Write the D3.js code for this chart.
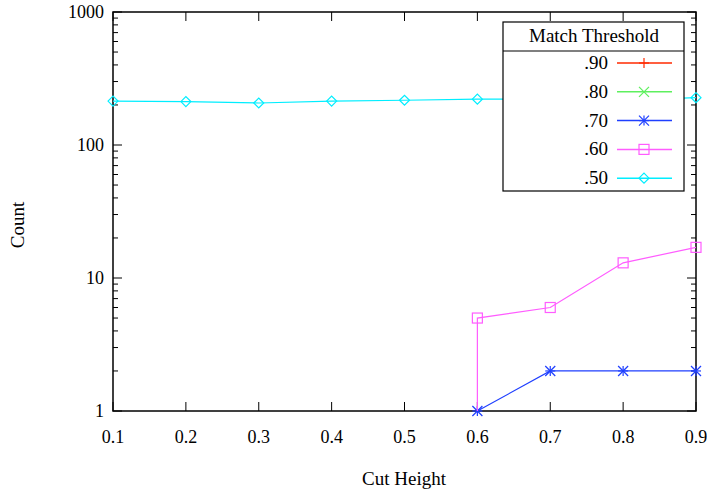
<!DOCTYPE html>
<html>
<head>
<meta charset="utf-8">
<script src="https://cdn.jsdelivr.net/npm/d3@7"></script>
<style>
  body { margin: 0; background: #fff; }
  svg { font-family: "Liberation Serif", "DejaVu Serif", serif; }
</style>
</head>
<body>
<svg width="707" height="492"></svg>
<script>
const cutHeights = [0.1, 0.2, 0.3, 0.4, 0.5, 0.6, 0.7, 0.8, 0.9];
const xTicks = [0.1, 0.2, 0.3, 0.4, 0.5, 0.6, 0.7, 0.8, 0.9];
const yTicks = [1, 10, 100, 1000];

// counts per cut height, null = nothing drawn (zero on a log axis)
const t90 = [null, null, null, null, null, null, null, null, null];
const t80 = [null, null, null, null, null, null, null, null, null];
const t70 = [null, null, null, null, null, 1, 2, 2, 2];
const t60 = [null, null, null, null, null, 5, 6, 13, 17];
const t50 = [214, 212, 207, 214, 217, 221, 222, 217, 227];

const seriesNames = ['.90', '.80', '.70', '.60', '.50'];
const seriesValues = [t90, t80, t70, t60, t50];
const seriesColors = ['#ff2a00', '#5ef05e', '#1f3fff', '#ff5cff', '#00eeff'];
const seriesMarkers = ['plus', 'cross', 'star', 'square', 'diamond'];

const plotL = 113, plotR = 696, plotT = 12, plotB = 411;

const svg = d3.select('svg');

const x = d3.scaleLinear().domain([0.1, 0.9]).range([plotL, plotR]);
const y = d3.scaleLog().domain([1, 1000]).range([plotB, plotT]);

// minor ticks for the log axis
const minorTicks = [];
for (let d = 1; d < 1000; d *= 10) {
    for (let k = 2; k <= 9; k++) minorTicks.push(d * k);
}

const axes = svg.append('g').attr('stroke', '#000');

// y ticks, both sides, pointing inwards
yTicks.forEach(v => {
    axes.append('line').attr('x1', plotL).attr('x2', plotL + 9).attr('y1', y(v)).attr('y2', y(v));
    axes.append('line').attr('x1', plotR).attr('x2', plotR - 9).attr('y1', y(v)).attr('y2', y(v));
});
minorTicks.forEach(v => {
    axes.append('line').attr('x1', plotL).attr('x2', plotL + 5).attr('y1', y(v)).attr('y2', y(v));
    axes.append('line').attr('x1', plotR).attr('x2', plotR - 5).attr('y1', y(v)).attr('y2', y(v));
});
// x ticks, top and bottom
xTicks.forEach(v => {
    axes.append('line').attr('x1', x(v)).attr('x2', x(v)).attr('y1', plotB).attr('y2', plotB - 9);
    axes.append('line').attr('x1', x(v)).attr('x2', x(v)).attr('y1', plotT).attr('y2', plotT + 9);
});

axes.append('rect')
    .attr('x', plotL).attr('y', plotT)
    .attr('width', plotR - plotL).attr('height', plotB - plotT)
    .attr('fill', 'none').attr('stroke-width', 1.5);

// tick labels
svg.append('g').selectAll('text').data(yTicks).enter().append('text')
    .attr('x', plotL - 9).attr('y', d => y(d) + 6)
    .attr('text-anchor', 'end').attr('font-size', 18)
    .text(d => d);

svg.append('g').selectAll('text').data(xTicks).enter().append('text')
    .attr('x', d => x(d)).attr('y', 443)
    .attr('text-anchor', 'middle').attr('font-size', 18)
    .text(d => d.toFixed(1));

svg.append('text').attr('x', 404).attr('y', 485)
    .attr('text-anchor', 'middle').attr('font-size', 19).text('Cut Height');
svg.append('text').attr('transform', 'translate(24,225) rotate(-90)')
    .attr('text-anchor', 'middle').attr('font-size', 19).text('Count');

function marker(g, type, cx, cy, color) {
    const s = 5;
    const m = g.append('g').attr('stroke', color).attr('fill', 'none').attr('stroke-width', 1.2);
    if (type === 'plus' || type === 'star') {
        m.append('line').attr('x1', cx - s).attr('x2', cx + s).attr('y1', cy).attr('y2', cy);
        m.append('line').attr('x1', cx).attr('x2', cx).attr('y1', cy - s).attr('y2', cy + s);
    }
    if (type === 'cross' || type === 'star') {
        m.append('line').attr('x1', cx - s).attr('x2', cx + s).attr('y1', cy - s).attr('y2', cy + s);
        m.append('line').attr('x1', cx - s).attr('x2', cx + s).attr('y1', cy + s).attr('y2', cy - s);
    }
    if (type === 'square') {
        m.append('rect').attr('x', cx - s).attr('y', cy - s).attr('width', 2 * s).attr('height', 2 * s);
    }
    if (type === 'diamond') {
        m.append('path').attr('d', `M${cx - s},${cy}L${cx},${cy - s}L${cx + s},${cy}L${cx},${cy + s}Z`);
    }
}

const plot = svg.append('g');
const line = d3.line()
    .defined(d => d.v !== null)
    .x(d => x(d.h)).y(d => y(d.v));

seriesValues.forEach((vals, i) => {
    const pts = cutHeights.map((h, j) => ({ h: h, v: vals[j] }));
    const shown = pts.filter(p => p.v !== null);
    if (!shown.length) return;
    // a series rising out of zero is clipped to the bottom of the log axis
    const first = pts.indexOf(shown[0]);
    const path = first > 0 && shown[0].v > 1
        ? [{ h: shown[0].h, v: y.domain()[0] }].concat(shown) : shown;
    plot.append('path').datum(path)
        .attr('d', line).attr('fill', 'none')
        .attr('stroke', seriesColors[i]).attr('stroke-width', 1.2);
    shown.forEach(p => marker(plot, seriesMarkers[i], x(p.h), y(p.v), seriesColors[i]));
});

// legend
const lg = svg.append('g');
lg.append('rect').attr('x', 503).attr('y', 22).attr('width', 181).attr('height', 169)
    .attr('fill', '#fff').attr('stroke', '#000').attr('stroke-width', 1.2);
lg.append('line').attr('x1', 503).attr('x2', 684).attr('y1', 51).attr('y2', 51)
    .attr('stroke', '#000').attr('stroke-width', 1.2);
lg.append('text').attr('x', 594).attr('y', 42).attr('text-anchor', 'middle')
    .attr('font-size', 19).text('Match Threshold');
seriesNames.forEach((name, i) => {
    const cy = 63 + i * 28.8;
    lg.append('text').attr('x', 608).attr('y', cy + 6).attr('text-anchor', 'end')
        .attr('font-size', 19).text(name);
    lg.append('line').attr('x1', 617).attr('x2', 672).attr('y1', cy).attr('y2', cy)
        .attr('stroke', seriesColors[i]).attr('stroke-width', 1.5);
    marker(lg, seriesMarkers[i], 644, cy, seriesColors[i]);
});
</script>
</body>
</html>
